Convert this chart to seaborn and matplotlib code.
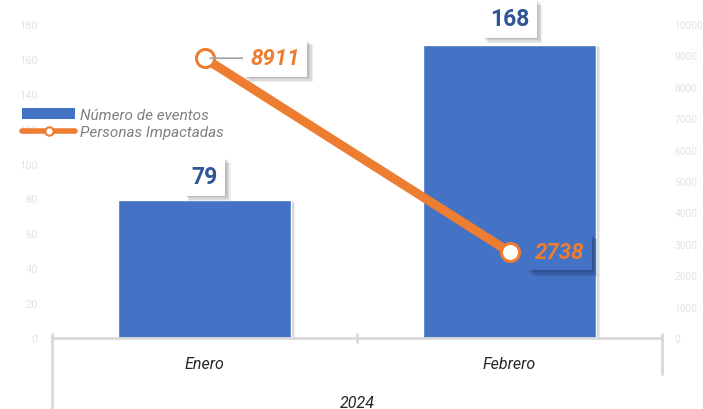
import matplotlib
matplotlib.use("Agg")
import matplotlib.pyplot as plt
import matplotlib.patheffects as pe
from matplotlib.patches import Patch
from matplotlib.lines import Line2D
import seaborn as sns
import pandas as pd

# ---- data ----
months = ["Enero", "Febrero"]
eventos = [79, 168]
personas = [8911, 2738]
year_label = "2024"
left_ticks = [0, 20, 40, 60, 80, 100, 120, 140, 160, 180]
right_ticks = [0, 1000, 2000, 3000, 4000, 5000, 6000, 7000, 8000, 9000, 10000]

BLUE = "#4472C4"
ORANGE = "#ED7D31"
LBLUE = "#2F5597"
TICKC = "#E3E3E3"
AXC = "#D9D9D9"

sns.set_theme(style="white")
plt.rcParams["font.family"] = ["Roboto", "DejaVu Sans"]


def soft_shadow(offset=(3, -3), color="black", alpha=0.06):
    # layered shadows to imitate a soft blur
    effs = []
    for k in range(4, 0, -1):
        effs.append(pe.SimplePatchShadow(offset=(offset[0] * k / 3, offset[1] * k / 3),
                                         shadow_rgbFace=color, alpha=alpha))
    effs.append(pe.Normal())
    return effs


df = pd.DataFrame({"mes": months, "eventos": eventos, "personas": personas})

fig = plt.figure(figsize=(7.03, 4.10), dpi=100)
ax = fig.add_axes([52 / 703, 1 - 339 / 410, 610 / 703, 314 / 410])

sns.barplot(data=df, x="mes", y="eventos", color=BLUE, saturation=1, width=0.57, ax=ax)
for p in ax.patches:
    p.set_path_effects(soft_shadow(offset=(2, -1), alpha=0.07))

ax.set_xlim(-0.5, 1.5)
ax.set_ylim(0, 180)
ax.set_yticks(left_ticks)
ax.tick_params(axis="y", length=0, pad=10, labelsize=8, labelcolor=TICKC)
ax.tick_params(axis="x", length=0, pad=13, labelsize=11.5, labelcolor="#262626")
for lab in ax.get_xticklabels():
    lab.set_fontstyle("italic")
ax.set_xlabel("")
ax.set_ylabel("")
for s in ["top", "left", "right"]:
    ax.spines[s].set_visible(False)
ax.spines["bottom"].set_color(AXC)
ax.spines["bottom"].set_linewidth(2)

# multi-level category axis lines
tr = ax.get_xaxis_transform()
ax.plot([-0.5, -0.5], [0.013, -0.23], color=AXC, lw=2, transform=tr, clip_on=False)
ax.plot([1.5, 1.5], [0.013, -0.115], color=AXC, lw=2, transform=tr, clip_on=False)
ax.plot([0.5, 0.5], [0.013, -0.013], color=AXC, lw=2, transform=tr, clip_on=False)
ax.text(0.5, -0.205, year_label, transform=tr, ha="center", va="center",
        fontsize=11.5, fontstyle="italic", color="#262626")

# bar labels
for i, v in enumerate(eventos):
    ax.annotate(str(v), xy=(i, v), xytext=(0, 17 if v < 100 else 19), textcoords="offset points",
                ha="center", va="center", fontsize=16.5, fontweight="bold", color=LBLUE,
                bbox=dict(boxstyle="square,pad=0.33", fc="white", ec="none",
                          path_effects=soft_shadow(offset=(3, -3), alpha=0.07)))

# line on twin axis
ax2 = ax.twinx()
sns.lineplot(data=df, x="mes", y="personas", ax=ax2, color=ORANGE, lw=6.5, marker="o",
             markersize=13, markerfacecolor="white", markeredgecolor=ORANGE,
             markeredgewidth=2.2, legend=False)
ax2.set_ylim(0, 10000)
ax2.set_yticks(right_ticks)
ax2.set_xlim(-0.5, 1.5)
ax2.tick_params(axis="y", length=0, pad=9, labelsize=7.3, labelcolor=TICKC)
ax2.set_ylabel("")
ax2.set_xlabel("")
for s in ["top", "left", "right", "bottom"]:
    ax2.spines[s].set_visible(False)

# line labels
ax2.annotate(str(personas[0]), xy=(0, personas[0]), xytext=(51, 0), textcoords="offset points",
             ha="center", va="center", fontsize=16, fontweight="bold", fontstyle="italic", color=ORANGE,
             bbox=dict(boxstyle="square,pad=0.33", fc="white", ec="none",
                       path_effects=soft_shadow(offset=(3, -3), alpha=0.07)),
             arrowprops=dict(arrowstyle="-", color="#A6A6A6", lw=1.3, shrinkA=0, shrinkB=4))
ax2.annotate(str(personas[1]), xy=(1, personas[1]), xytext=(36, 0), textcoords="offset points",
             ha="center", va="center", fontsize=16, fontweight="bold", fontstyle="italic", color=ORANGE,
             bbox=dict(boxstyle="square,pad=0.33", fc=BLUE, ec="none",
                       path_effects=soft_shadow(offset=(3, -3), color="#1F3A70", alpha=0.18)))

# legend
handles = [
    Patch(facecolor=BLUE, edgecolor="none", label="Número de eventos"),
    Line2D([0], [0], color=ORANGE, lw=4, marker="o", markersize=6, markerfacecolor="white",
           markeredgecolor=ORANGE, markeredgewidth=1.5, label="Personas Impactadas"),
]
leg = fig.legend(handles=handles, loc="upper left", bbox_to_anchor=(22 / 703, 1 - 109 / 410),
                 frameon=False, handlelength=3.5, handletextpad=0.3, labelspacing=0.2,
                 prop=dict(size=11, style="italic"), borderaxespad=0, borderpad=0)
for t in leg.get_texts():
    t.set_color("#7F7F7F")

fig.savefig("out.png", dpi=100)
